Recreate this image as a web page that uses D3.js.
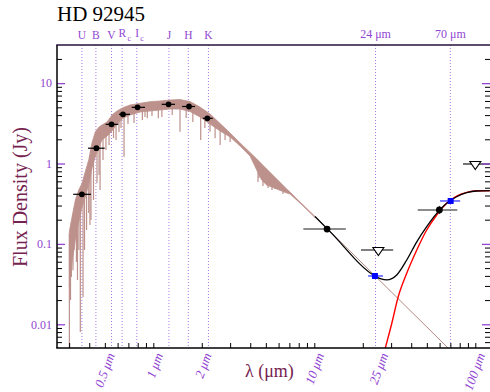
<!DOCTYPE html>
<html><head><meta charset="utf-8">
<script src="https://cdn.jsdelivr.net/npm/d3@7"></script>
<style>body{margin:0;background:#fff}svg{display:block}</style>
</head><body>
<svg id="c" width="490" height="392"></svg>
<script>
// ---------------- data ----------------
const title = "HD 92945";
const yTickVals = [0.01, 0.1, 1, 10];
const yTickLabels = ["0.01", "0.1", "1", "10"];
const xTickVals = [0.5, 1, 2, 10, 25, 100];
const xTickLabels = ["0.5 μm", "1 μm", "2 μm", "10 μm", "25 μm", "100 μm"];

// band markers on top
const bandNames = ["U", "B", "V", "R", "I", "J", "H", "K"];
const bandSubs  = ["", "", "", "c", "c", "", "", ""];
const bandLam   = [0.36, 0.44, 0.55, 0.64, 0.79, 1.25, 1.65, 2.2];
const farLam    = [24, 70];
const farNames  = ["24 μm", "70 μm"];

// stellar model spectrum (upper / lower envelope of the band)
const specLam = [0.301,0.313,0.328,0.344,0.361,0.378,0.397,0.416,0.436,0.458,0.480,0.516,0.554,0.595,0.651,0.717,0.827,0.954,1.10,1.27,1.465,1.69,1.95,2.25,2.60,3.00,3.46,3.99,4.39,4.71,5.06,5.84,6.74,7.06,8.15,10.1];
const specHi  = [0.142,0.218,0.352,0.468,0.567,0.791,1.105,1.80,2.47,2.82,3.01,3.28,4.01,4.50,4.97,5.34,5.61,5.87,5.99,6.16,6.25,5.90,5.04,4.13,3.14,2.39,1.80,1.37,1.14,0.986,0.854,0.642,0.482,0.442,0.332,0.219];
const specLo  = [0.0294,0.0596,0.112,0.187,0.288,0.383,0.556,0.879,1.205,1.60,1.96,2.20,2.54,3.10,3.68,4.01,4.37,4.50,4.63,4.76,4.76,4.44,3.79,3.10,2.54,2.14,1.65,1.24,0.830,0.623,0.540,0.482,0.430,0.418,0.323,0.213];
// absorption lines (wavelength, depth reached)
const dipLam = [0.301,0.306,0.310,0.317,0.322,0.333,0.338,0.345,0.352,0.366,0.374,0.385,0.397,0.404,0.410,0.425,0.447,0.460,0.467,0.487,0.508,0.531,0.566,0.587,0.612,0.630,0.658,0.696,0.759,0.855,0.888,0.918,0.981,1.074,1.13,1.31,1.465,1.60,1.76,1.97,2.09,2.25,2.42,2.60,2.79,3.00,4.47,4.53,4.80,4.94,5.16,5.31,5.46,5.70,6.12,6.39];
const dipF   = [0.0050,0.020,0.0388,0.047,0.084,0.0596,0.0356,0.084,0.0080,0.0219,0.084,0.149,0.242,0.172,0.198,0.352,0.572,0.719,0.468,1.105,1.47,1.70,2.08,1.96,2.47,2.77,1.215,3.10,3.19,3.48,3.79,3.65,3.89,3.65,3.79,4.01,2.49,3.68,3.28,1.96,2.77,2.49,2.06,1.70,1.96,1.85,0.589,0.660,0.525,0.572,0.496,0.540,0.468,0.482,0.468,0.418];
// Rayleigh-Jeans continuation of the photosphere
const rjLam = [10.1, 80];
const rjF   = [0.219, 0.00365];

// star + disk model (black) and disk blackbody (red)
const totLam = [10.1,12.52,23.8,26.0,28.2,32.5,37.5,43.3,49.9,57.6,66.4,76.6,88.4,102,123];
const totF   = [0.219,0.142,0.0399,0.0366,0.0356,0.041,0.063,0.106,0.164,0.240,0.320,0.386,0.433,0.455,0.459];
const diskLam = [25,27.5,30.3,33.2,37.5,43.3,49.9,57.6,66.4,76.6,88.4,102,123];
const diskF   = [0.0024,0.00493,0.0103,0.022,0.0431,0.084,0.149,0.229,0.320,0.394,0.438,0.459,0.459];

// optical / near-IR photometry
const optLam = [0.36,0.443,0.55,0.648,0.798,1.243,1.666,2.165];
const optF   = [0.414,1.55,3.07,4.09,5.0,5.45,5.12,3.65];
const optLo  = [0.318,0.393,0.506,0.612,0.734,1.127,1.51,2.03];
const optHi  = [0.41,0.499,0.606,0.717,0.888,1.364,1.815,2.34];
// mid/far-IR photometry (black)
const irLam = [12.0, 59.8];
const irF   = [0.153, 0.264];
const irLo  = [8.55, 43.9];
const irHi  = [15.7, 77.3];
const irFlo = [0.140, 0.235];
const irFhi = [0.167, 0.297];
// MIPS photometry (blue)
const mipsLam = [23.8, 70.3];
const mipsF   = [0.0399, 0.342];
const mipsLo  = [21.6, 60.4];
const mipsHi  = [26.7, 80.5];
// upper limits
const ulLam = [25, 100];
const ulF   = [0.084, 0.986];
const ulLo  = [19.5, 83.9];
const ulHi  = [30.9, 125];

// ---------------- drawing ----------------
const L = 57, R = 490, T = 45, B = 348;
const purple = "#9146d2", maroon = "#76224f", specCol = "#bd918c";
const serif = "'Liberation Serif','Times New Roman',serif";

const x = d3.scaleLog().domain([0.2522, 123.4]).range([L, R]);
const y = d3.scaleLog().domain([0.00507, 29.8]).range([B, T]);

const svg = d3.select("#c");
svg.append("defs").append("clipPath").attr("id", "clip")
  .append("rect").attr("x", L).attr("y", T).attr("width", R - L).attr("height", B - T);
const plot = svg.append("g").attr("clip-path", "url(#clip)");

// dotted wavelength guides
const guides = bandLam.concat(farLam);
plot.selectAll("line.guide").data(guides).join("line")
  .attr("x1", d => x(d)).attr("x2", d => x(d)).attr("y1", T).attr("y2", B)
  .attr("stroke", "#a77be6").attr("stroke-width", 1).attr("stroke-dasharray", "1,2");

// spectrum band
const specPts = specLam.map((l, i) => ({l, hi: specHi[i], lo: specLo[i]}));
plot.append("path").datum(specPts)
  .attr("d", d3.area().x(d => x(d.l)).y0(d => y(d.lo)).y1(d => y(d.hi)))
  .attr("fill", specCol).attr("stroke", specCol).attr("stroke-width", 0.8);
const hiAt = d3.scaleLinear().domain(specLam.map(x)).range(specHi.map(y));
plot.selectAll("line.dip").data(dipLam.map((l, i) => ({l, f: dipF[i]}))).join("line")
  .attr("x1", d => x(d.l)).attr("x2", d => x(d.l))
  .attr("y1", d => hiAt(x(d.l)) + 2).attr("y2", d => y(d.f))
  .attr("stroke", specCol).attr("stroke-width", 1.2);
plot.append("path").datum(rjLam.map((l, i) => [l, rjF[i]]))
  .attr("d", d3.line().x(d => x(d[0])).y(d => y(d[1])))
  .attr("fill", "none").attr("stroke", "#b58a86").attr("stroke-width", 1);

// models
plot.append("path").datum(diskLam.map((l, i) => [l, diskF[i]]))
  .attr("d", d3.line().x(d => x(d[0])).y(d => y(d[1])).curve(d3.curveMonotoneX))
  .attr("fill", "none").attr("stroke", "#ff0000").attr("stroke-width", 1.4);
plot.append("path").datum(totLam.map((l, i) => [l, totF[i]]))
  .attr("d", d3.line().x(d => x(d[0])).y(d => y(d[1])).curve(d3.curveMonotoneX))
  .attr("fill", "none").attr("stroke", "#000").attr("stroke-width", 1.3);

// optical photometry
optLam.forEach((l, i) => {
  plot.append("line").attr("x1", x(optLo[i])).attr("x2", x(optHi[i]))
    .attr("y1", y(optF[i])).attr("y2", y(optF[i])).attr("stroke", "#000").attr("stroke-width", 1.2);
  plot.append("circle").attr("cx", x(l)).attr("cy", y(optF[i])).attr("r", 2.9).attr("fill", "#000");
});
// IR photometry
irLam.forEach((l, i) => {
  plot.append("line").attr("x1", x(irLo[i])).attr("x2", x(irHi[i]))
    .attr("y1", y(irF[i])).attr("y2", y(irF[i])).attr("stroke", "#666").attr("stroke-width", 1.6);
  plot.append("line").attr("x1", x(l)).attr("x2", x(l))
    .attr("y1", y(irFlo[i])).attr("y2", y(irFhi[i])).attr("stroke", "#444").attr("stroke-width", 1);
  plot.append("circle").attr("cx", x(l)).attr("cy", y(irF[i])).attr("r", 3.4).attr("fill", "#000");
});
// upper limits
ulLam.forEach((l, i) => {
  const cx = x(l), cy = y(ulF[i]);
  plot.append("line").attr("x1", x(ulLo[i])).attr("x2", x(ulHi[i]))
    .attr("y1", cy).attr("y2", cy).attr("stroke", "#000").attr("stroke-width", 1.1);
  plot.append("path").attr("d", `M${cx - 5.5},${cy - 2.5}L${cx + 5.5},${cy - 2.5}L${cx},${cy + 5.5}Z`)
    .attr("fill", "#fff").attr("stroke", "#000").attr("stroke-width", 1.1);
});
// MIPS
mipsLam.forEach((l, i) => {
  const cx = x(l), cy = y(mipsF[i]);
  plot.append("line").attr("x1", x(mipsLo[i])).attr("x2", x(mipsHi[i]))
    .attr("y1", cy).attr("y2", cy).attr("stroke", "#6f6fff").attr("stroke-width", 1.8);
  plot.append("rect").attr("x", cx - 3).attr("y", cy - 3).attr("width", 6).attr("height", 6).attr("fill", "#0000ff");
});

// ---------------- axes ----------------
const minorY = [];
for (let e = -3; e <= 1; e++) for (let m = 2; m <= 9; m++) {
  const v = m * Math.pow(10, e);
  if (v > 0.00507 && v < 29.8) minorY.push(v);
}
const minorX = [];
for (let e = -1; e <= 2; e++) for (let m = 1; m <= 9; m++) {
  const v = m * Math.pow(10, e);
  if (v > 0.2522 && v < 123.4) minorX.push(v);
}
function noDomain(g) { g.select(".domain").remove(); }
// left
svg.append("g").attr("transform", `translate(${L},0)`)
  .call(d3.axisLeft(y).tickValues(minorY).tickSize(-5).tickFormat(""))
  .call(noDomain).selectAll("line").attr("stroke", "#000");
svg.append("g").attr("transform", `translate(${L},0)`)
  .call(d3.axisLeft(y).tickValues(yTickVals).tickSize(-8).tickPadding(5).tickFormat((d, i) => yTickLabels[i]))
  .call(noDomain)
  .call(g => g.selectAll("line").attr("stroke", purple).attr("stroke-width", 1.3))
  .call(g => g.selectAll("text").attr("fill", purple).style("font-family", serif).style("font-size", "12px"));
// right
svg.append("g").attr("transform", `translate(${R},0)`)
  .call(d3.axisRight(y).tickValues(minorY).tickSize(-5).tickFormat(""))
  .call(noDomain).selectAll("line").attr("stroke", "#000");
svg.append("g").attr("transform", `translate(${R},0)`)
  .call(d3.axisRight(y).tickValues(yTickVals).tickSize(-8).tickFormat(""))
  .call(noDomain).selectAll("line").attr("stroke", purple).attr("stroke-width", 1.3);
// bottom
svg.append("g").attr("transform", `translate(0,${B})`)
  .call(d3.axisBottom(x).tickValues(minorX).tickSize(-5).tickFormat(""))
  .call(noDomain).selectAll("line").attr("stroke", "#000");

// frame
svg.append("line").attr("x1", L).attr("x2", L).attr("y1", T).attr("y2", B).attr("stroke", "#000").attr("stroke-width", 1.5);
svg.append("line").attr("x1", L - 0.75).attr("x2", R).attr("y1", B).attr("y2", B).attr("stroke", "#000").attr("stroke-width", 1.5);
svg.append("line").attr("x1", L - 0.75).attr("x2", R).attr("y1", T).attr("y2", T).attr("stroke", "#24123a").attr("stroke-width", 1.5);

// rotated x tick labels
svg.selectAll("text.xl").data(xTickVals).join("text")
  .attr("transform", d => `translate(${x(d) + 10},${355}) rotate(-70)`)
  .attr("text-anchor", "end")
  .attr("fill", purple).style("font-family", serif).style("font-size", "13px").style("font-style", "italic")
  .text((d, i) => xTickLabels[i]);

// band labels on top
bandLam.forEach((l, i) => {
  if (bandSubs[i]) {
    const isR = bandNames[i] === "R";
    svg.append("text").attr("x", x(l) + (isR ? -3.5 : -1.5)).attr("y", 36.5)
      .attr("fill", purple).style("font-family", serif).style("font-size", "11.5px").text(bandNames[i]);
    svg.append("text").attr("x", x(l) + (isR ? 5.5 : 3.5)).attr("y", 41)
      .attr("fill", purple).style("font-family", serif).style("font-size", "8px").text(bandSubs[i]);
  } else {
    svg.append("text").attr("x", x(l)).attr("y", 39).attr("text-anchor", "middle")
      .attr("fill", purple).style("font-family", serif).style("font-size", "11.5px").text(bandNames[i]);
  }
});
farLam.forEach((l, i) => {
  svg.append("text").attr("x", x(l)).attr("y", 38).attr("text-anchor", "middle")
    .attr("fill", purple).style("font-family", serif).style("font-size", "12px").text(farNames[i]);
});

// title and axis titles
svg.append("text").attr("x", 57).attr("y", 20.5).attr("fill", "#000")
  .style("font-family", serif).style("font-size", "21px").text(title);
svg.append("text").attr("x", 245).attr("y", 377).attr("fill", maroon)
  .style("font-family", serif).style("font-size", "18px").text("λ (μm)");
svg.append("text").attr("transform", "translate(27,197) rotate(-90)").attr("text-anchor", "middle")
  .attr("fill", maroon).style("font-family", serif).style("font-size", "20px").text("Flux Density (Jy)");
</script>
</body></html>
